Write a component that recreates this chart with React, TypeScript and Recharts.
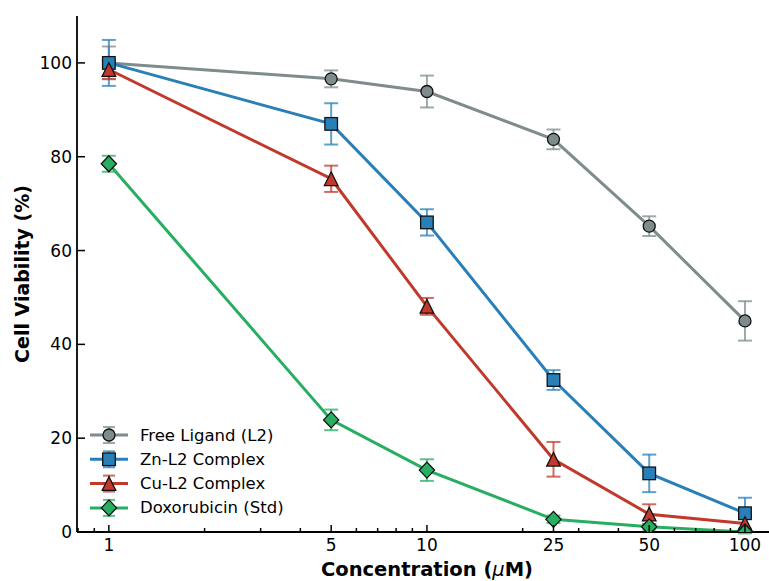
import { LineChart, Line, XAxis, YAxis, ErrorBar, Legend, Label } from 'recharts'

const concentrations = [1, 5, 10, 25, 50, 100]

const ligandMean = [100, 96.6, 93.9, 83.7, 65.2, 45.0]
const ligandErr = [3.5, 1.8, 3.4, 2.1, 2.1, 4.2]
const znMean = [100, 87.0, 66.0, 32.4, 12.5, 4.0]
const znErr = [4.9, 4.4, 2.8, 2.1, 4.0, 3.3]
const cuMean = [98.6, 75.3, 48.1, 15.5, 3.8, 1.8]
const cuErr = [2.0, 2.8, 1.8, 3.7, 2.1, 1.5]
const doxMean = [78.5, 23.9, 13.2, 2.7, 1.1, 0]
const doxErr = [1.7, 2.2, 2.3, 0.8, 0.6, 0.3]

const majorTicks = [1, 5, 10, 25, 50, 100]
const minorTicks = [0.8, 0.9, 2, 3, 4, 6, 7, 8, 9, 20, 30, 40, 60, 70, 80, 90]
const yTicks = [0, 20, 40, 60, 80, 100]

const FONT = 'DejaVu Sans, sans-serif'

type Shape = 'circle' | 'square' | 'triangle' | 'diamond'

const series: { key: string; name: string; color: string; shape: Shape }[] = [
  { key: 'ligand', name: 'Free Ligand (L2)', color: '#7f8c8d', shape: 'circle' },
  { key: 'zn', name: 'Zn-L2 Complex', color: '#2980b9', shape: 'square' },
  { key: 'cu', name: 'Cu-L2 Complex', color: '#c0392b', shape: 'triangle' },
  { key: 'dox', name: 'Doxorubicin (Std)', color: '#27ae60', shape: 'diamond' },
]

const data = concentrations.map((c, i) => ({
  conc: c,
  ligand: ligandMean[i],
  ligandErr: ligandErr[i],
  zn: znMean[i],
  znErr: znErr[i],
  cu: cuMean[i],
  cuErr: cuErr[i],
  dox: doxMean[i],
  doxErr: doxErr[i],
}))

function Marker({ shape, cx, cy, fill }: { shape: Shape; cx: number; cy: number; fill: string }) {
  const common = { fill, stroke: '#111', strokeWidth: 1.3 }
  if (shape === 'circle') return <circle cx={cx} cy={cy} r={6} {...common} />
  if (shape === 'square') return <rect x={cx - 6.3} y={cy - 6.3} width={12.6} height={12.6} {...common} />
  if (shape === 'triangle')
    return <polygon points={`${cx},${cy - 6.8} ${cx - 6.8},${cy + 6.8} ${cx + 6.8},${cy + 6.8}`} {...common} />
  return <polygon points={`${cx},${cy - 8} ${cx + 7.6},${cy} ${cx},${cy + 8} ${cx - 7.6},${cy}`} {...common} />
}

function XTick(props: any) {
  const { x, y, payload } = props
  const major = majorTicks.includes(payload.value)
  return (
    <g>
      <line x1={x} x2={x} y1={y} y2={y - (major ? 7 : 4)} stroke="#000" strokeWidth={1.5} />
      {major && (
        <text x={x} y={y + 19} textAnchor="middle" fontFamily={FONT} fontSize={17} fill="#000">
          {payload.value}
        </text>
      )}
    </g>
  )
}

function YTick(props: any) {
  const { x, y, payload } = props
  return (
    <g>
      <line x1={x} x2={x + 8} y1={y} y2={y} stroke="#000" strokeWidth={1.5} />
      <text x={x - 5} y={y} textAnchor="end" dominantBaseline="central" fontFamily={FONT} fontSize={17} fill="#000">
        {payload.value}
      </text>
    </g>
  )
}

function XTitle(props: any) {
  const vb = props.viewBox
  return (
    <text
      x={vb.x + vb.width / 2 + 4}
      y={vb.y + 44}
      textAnchor="middle"
      fontFamily={FONT}
      fontSize={19.5}
      fontWeight="bold"
      fill="#000"
    >
      Concentration (<tspan fontStyle="italic" fontWeight="normal">μ</tspan>M)
    </text>
  )
}

function YTitle(props: any) {
  const vb = props.viewBox
  const cx = 29
  const cy = vb.y + vb.height / 2
  return (
    <text
      x={cx}
      y={cy}
      textAnchor="middle"
      transform={`rotate(-90, ${cx}, ${cy})`}
      fontFamily={FONT}
      fontSize={19}
      fontWeight="bold"
      fill="#000"
    >
      Cell Viability (%)
    </text>
  )
}

function LegendBox() {
  return (
    <svg width={240} height={100} style={{ display: 'block' }}>
      {series.map((s, i) => {
        const cy = 12 + i * 24.3
        return (
          <g key={s.key}>
            <line x1={2} x2={40} y1={cy} y2={cy} stroke={s.color} strokeWidth={3} />
            <g stroke={s.color} strokeWidth={2} strokeOpacity={0.75}>
              <line x1={21} x2={21} y1={cy - 8} y2={cy + 8} />
              <line x1={15} x2={27} y1={cy - 8} y2={cy - 8} />
              <line x1={15} x2={27} y1={cy + 8} y2={cy + 8} />
            </g>
            <Marker shape={s.shape} cx={21} cy={cy} fill={s.color} />
            <text x={52} y={cy} dominantBaseline="central" fontFamily={FONT} fontSize={16.5} fill="#000">
              {s.name}
            </text>
          </g>
        )
      })}
    </svg>
  )
}

export default function App() {
  return (
    <div style={{ position: 'absolute', left: 0, top: 0, background: '#fff' }}>
      <LineChart width={769} height={581} data={data} margin={{ top: 16, right: 0, bottom: 0, left: 0 }}>
        <XAxis
          dataKey="conc"
          type="number"
          scale="log"
          domain={[0.794, 119]}
          allowDataOverflow
          ticks={[...majorTicks, ...minorTicks].sort((a, b) => a - b)}
          interval={0}
          tick={<XTick />}
          tickLine={false}
          tickSize={0}
          tickMargin={0}
          height={49}
          axisLine={{ stroke: '#000', strokeWidth: 1.8 }}
        >
          <Label content={<XTitle />} />
        </XAxis>
        <YAxis
          type="number"
          domain={[0, 110]}
          allowDataOverflow
          ticks={yTicks}
          interval={0}
          tick={<YTick />}
          tickLine={false}
          tickSize={0}
          tickMargin={0}
          width={77}
          axisLine={{ stroke: '#000', strokeWidth: 1.8 }}
        >
          <Label content={<YTitle />} />
        </YAxis>
        <Legend
          layout="vertical"
          align="center"
          verticalAlign="middle"
          content={() => <LegendBox />}
          wrapperStyle={{ left: 88, top: 423, width: 240, height: 100 }}
        />
        {series.map((s) => (
          <Line
            key={s.key}
            dataKey={s.key}
            name={s.name}
            stroke={s.color}
            strokeWidth={3}
            isAnimationActive={false}
            dot={(p: any) => <Marker key={`${s.key}-${p.index}`} shape={s.shape} cx={p.cx} cy={p.cy} fill={s.color} />}
            activeDot={false}
          >
            <ErrorBar dataKey={`${s.key}Err`} width={7} strokeWidth={2} stroke={s.color} strokeOpacity={0.75} direction="y" />
          </Line>
        ))}
      </LineChart>
    </div>
  )
}
